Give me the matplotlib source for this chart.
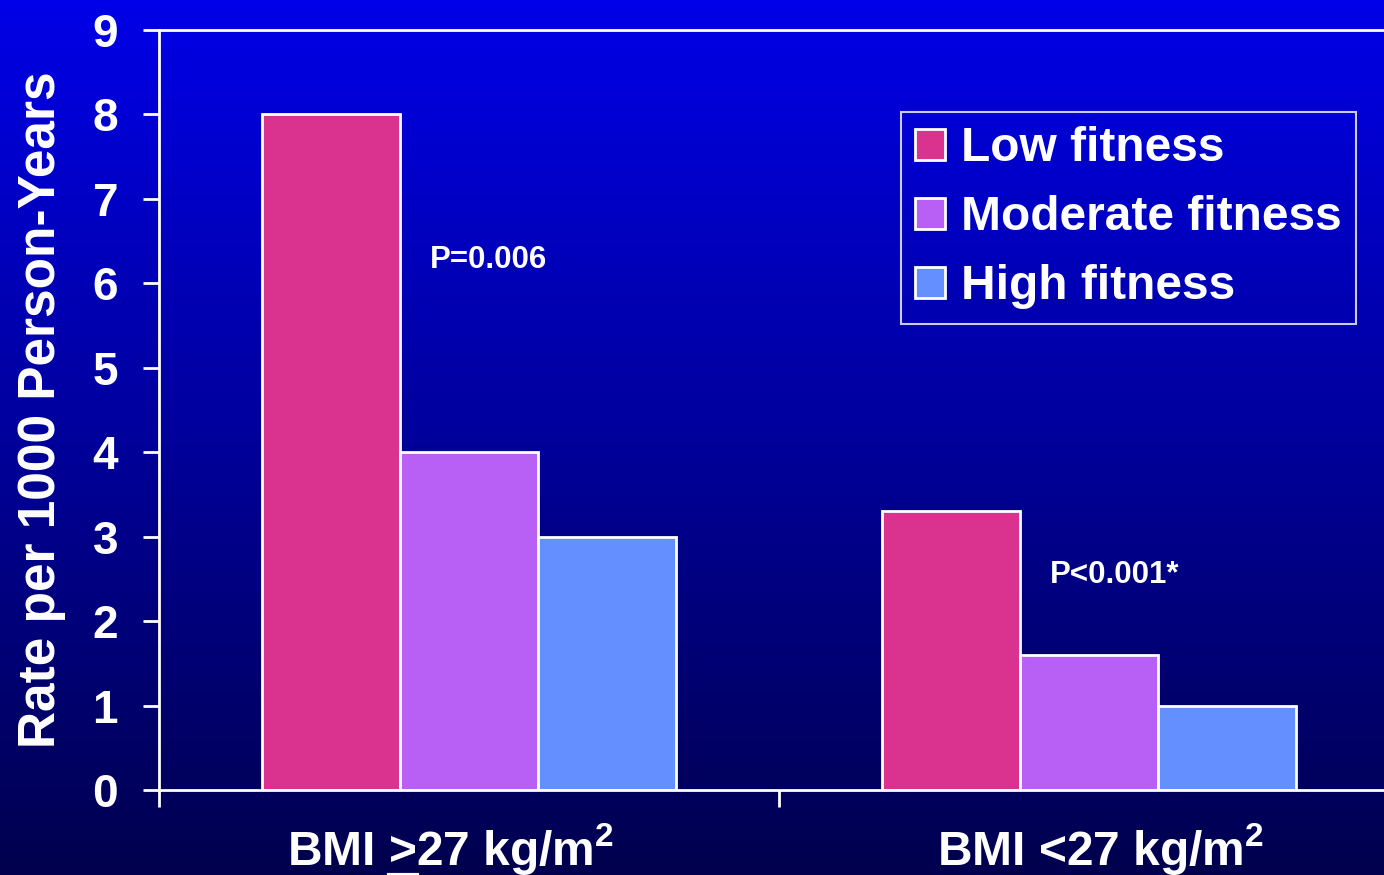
import numpy as np
import matplotlib.pyplot as plt
import matplotlib.transforms as mtransforms
from matplotlib.ticker import FixedLocator
from matplotlib.lines import Line2D

plt.rcParams['font.family'] = ['Liberation Sans', 'DejaVu Sans']
plt.rcParams['font.weight'] = 'bold'
plt.rcParams['mathtext.fontset'] = 'custom'
plt.rcParams['mathtext.rm'] = 'Liberation Sans:bold'
plt.rcParams['mathtext.bf'] = 'Liberation Sans:bold'
plt.rcParams['mathtext.it'] = 'Liberation Sans:bold'

# rates per 1000 person-years
groups = ['BMI >27 kg/m$^2$', 'BMI <27 kg/m$^2$']
series = ['Low fitness', 'Moderate fitness', 'High fitness']
low = [8.0, 3.3]
moderate = [4.0, 1.6]
high = [3.0, 1.0]
p_labels = ['P=0.006', 'P<0.001*']
colors = ['#D9338F', '#B860F6', '#6490FF']

fig = plt.figure(figsize=(13.84, 8.75), dpi=100)

# vertical blue gradient behind everything
bg = fig.add_axes([0, 0, 1, 1], zorder=-10)
grad = np.linspace(0, 1, 256).reshape(-1, 1)
top = np.array([0, 0, 232]) / 255
bottom = np.array([0, 0, 78]) / 255
img = top + (bottom - top) * grad[:, :, None]
bg.imshow(img, aspect='auto', extent=[0, 1, 0, 1])
bg.set_axis_off()

ax = fig.add_axes([159 / 1384, 1 - 790 / 875, 1240 / 1384, 760 / 875])
ax.set_facecolor('none')

x = np.arange(len(groups))
w = 0.2226
for i, (vals, name) in enumerate(zip([low, moderate, high], series)):
    ax.bar(x + (i - 1) * w, vals, w, color=colors[i], edgecolor='white',
           linewidth=2, label=name)

ax.text(-0.063, 6.28, p_labels[0], color='white', fontsize=22.5,
        fontweight='bold', va='center', ha='left')
ax.text(0.937, 2.55, p_labels[1], color='white', fontsize=22.5,
        fontweight='bold', va='center', ha='left')

ax.set_xlim(-0.5, 1.5)
ax.set_ylim(0, 9)
ax.set_yticks(range(10))
ax.set_xticks(x)
ax.set_xticklabels(groups)
ax.xaxis.set_minor_locator(FixedLocator([-0.5, 0.5, 1.5]))
ax.tick_params(axis='x', which='major', length=0, pad=22, labelsize=34.5,
               colors='white')
ax.tick_params(axis='x', which='minor', length=12, width=2, color='white')
ax.tick_params(axis='y', length=11.5, width=2, pad=18, labelsize=33,
               colors='white')

# nudge the group labels sideways a little
for lbl, dx in zip(ax.get_xticklabels(), [-18, 12]):
    lbl.set_transform(lbl.get_transform() +
                      mtransforms.ScaledTranslation(dx / 100, 0, fig.dpi_scale_trans))

for s in ['left', 'top', 'bottom']:
    ax.spines[s].set_color('white')
    ax.spines[s].set_linewidth(2)
ax.spines['right'].set_visible(False)

ax.set_ylabel('Rate per 1000 Person-Years', color='white', fontsize=37,
              fontweight='bold', labelpad=19)

leg = ax.legend(loc='upper right', bbox_to_anchor=((1356 - 159) / 1240, (790 - 112) / 760),
                fontsize=34.5, frameon=True, fancybox=False, handlelength=0.62,
                handleheight=0.62, handletextpad=0.33, labelspacing=0.5,
                borderpad=0.3, borderaxespad=0)
leg.get_frame().set_facecolor('none')
leg.get_frame().set_edgecolor('white')
leg.get_frame().set_linewidth(1.5)
for t in leg.get_texts():
    t.set_color('white')

# underline the ">" of the first group label so it reads as "greater or equal"
fig.canvas.draw()
r = fig.canvas.get_renderer()
lbl = ax.get_xticklabels()[0]
bb = lbl.get_window_extent(r)
probe = fig.text(0, 0, 'BMI ', fontsize=34.5, fontweight='bold')
x0 = bb.x0 + probe.get_window_extent(r).width
probe.set_text('BMI >')
x1 = bb.x0 + probe.get_window_extent(r).width
probe.remove()
yline = bb.y0 + 2
fig.add_artist(Line2D([x0 / 1384, x1 / 1384], [yline / 875] * 2,
                      transform=fig.transFigure, color='white', linewidth=3))

fig.savefig('out.png', dpi=100)
